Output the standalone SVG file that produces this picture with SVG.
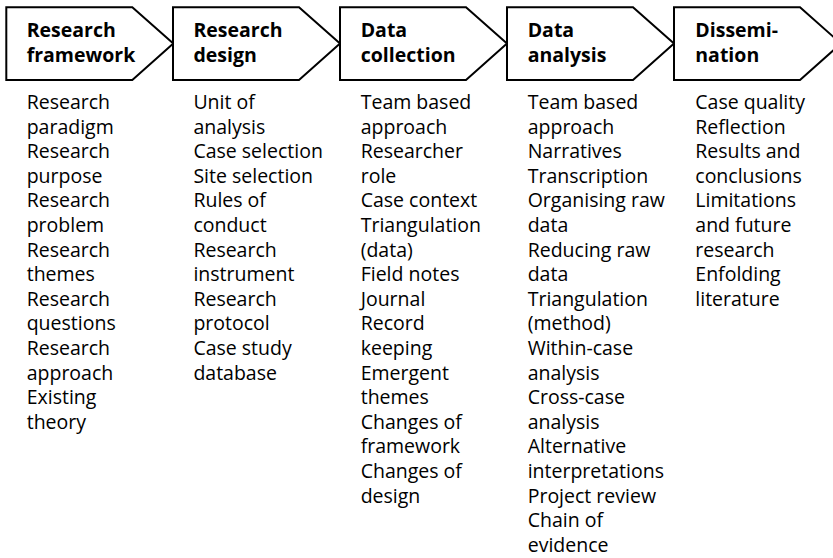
<svg xmlns="http://www.w3.org/2000/svg" width="833" height="558" viewBox="0 0 833 558">
<defs>
<style>
.chev{fill:#fff;stroke:#000;stroke-width:2;stroke-linejoin:miter}
.hd{font-family:"Open Sans","Noto Sans","Liberation Sans",sans-serif;font-weight:bold;font-size:19.5px;fill:#000}
.bd{font-family:"Open Sans","Noto Sans","Liberation Sans",sans-serif;font-size:19.5px;fill:#000}
</style>
<path id="chevShape" d="M0,0 H126 L167,36.3 L126,72.6 H0 Z"/>
</defs>
<rect width="833" height="558" fill="#fff"/>
<g id="node-framework">
<use href="#chevShape" x="6.3" y="7.3" class="chev"/>
<text class="hd" x="26.7" y="36.7">Research<tspan x="26.7" y="62">framework</tspan></text>
<text class="bd" x="26.7" y="109">Research<tspan x="26.7" dy="24.6">paradigm</tspan><tspan x="26.7" dy="24.6">Research</tspan><tspan x="26.7" dy="24.6">purpose</tspan><tspan x="26.7" dy="24.6">Research</tspan><tspan x="26.7" dy="24.6">problem</tspan><tspan x="26.7" dy="24.6">Research</tspan><tspan x="26.7" dy="24.6">themes</tspan><tspan x="26.7" dy="24.6">Research</tspan><tspan x="26.7" dy="24.6">questions</tspan><tspan x="26.7" dy="24.6">Research</tspan><tspan x="26.7" dy="24.6">approach</tspan><tspan x="26.7" dy="24.6">Existing</tspan><tspan x="26.7" dy="24.6">theory</tspan></text>
</g>
<g id="node-design">
<use href="#chevShape" x="173" y="7.3" class="chev"/>
<text class="hd" x="193.4" y="36.7">Research<tspan x="193.4" y="62">design</tspan></text>
<text class="bd" x="193.4" y="109">Unit of<tspan x="193.4" dy="24.6">analysis</tspan><tspan x="193.4" dy="24.6">Case selection</tspan><tspan x="193.4" dy="24.6">Site selection</tspan><tspan x="193.4" dy="24.6">Rules of</tspan><tspan x="193.4" dy="24.6">conduct</tspan><tspan x="193.4" dy="24.6">Research</tspan><tspan x="193.4" dy="24.6">instrument</tspan><tspan x="193.4" dy="24.6">Research</tspan><tspan x="193.4" dy="24.6">protocol</tspan><tspan x="193.4" dy="24.6">Case study</tspan><tspan x="193.4" dy="24.6">database</tspan></text>
</g>
<g id="node-collection">
<use href="#chevShape" x="340" y="7.3" class="chev"/>
<text class="hd" x="360.7" y="36.7">Data<tspan x="360.7" y="62">collection</tspan></text>
<text class="bd" x="360.7" y="109">Team based<tspan x="360.7" dy="24.6">approach</tspan><tspan x="360.7" dy="24.6">Researcher</tspan><tspan x="360.7" dy="24.6">role</tspan><tspan x="360.7" dy="24.6">Case context</tspan><tspan x="360.7" dy="24.6">Triangulation</tspan><tspan x="360.7" dy="24.6">(data)</tspan><tspan x="360.7" dy="24.6">Field notes</tspan><tspan x="360.7" dy="24.6">Journal</tspan><tspan x="360.7" dy="24.6">Record</tspan><tspan x="360.7" dy="24.6">keeping</tspan><tspan x="360.7" dy="24.6">Emergent</tspan><tspan x="360.7" dy="24.6">themes</tspan><tspan x="360.7" dy="24.6">Changes of</tspan><tspan x="360.7" dy="24.6">framework</tspan><tspan x="360.7" dy="24.6">Changes of</tspan><tspan x="360.7" dy="24.6">design</tspan></text>
</g>
<g id="node-analysis">
<use href="#chevShape" x="507" y="7.3" class="chev"/>
<text class="hd" x="527.7" y="36.7">Data<tspan x="527.7" y="62">analysis</tspan></text>
<text class="bd" x="527.7" y="109">Team based<tspan x="527.7" dy="24.6">approach</tspan><tspan x="527.7" dy="24.6">Narratives</tspan><tspan x="527.7" dy="24.6">Transcription</tspan><tspan x="527.7" dy="24.6">Organising raw</tspan><tspan x="527.7" dy="24.6">data</tspan><tspan x="527.7" dy="24.6">Reducing raw</tspan><tspan x="527.7" dy="24.6">data</tspan><tspan x="527.7" dy="24.6">Triangulation</tspan><tspan x="527.7" dy="24.6">(method)</tspan><tspan x="527.7" dy="24.6">Within-case</tspan><tspan x="527.7" dy="24.6">analysis</tspan><tspan x="527.7" dy="24.6">Cross-case</tspan><tspan x="527.7" dy="24.6">analysis</tspan><tspan x="527.7" dy="24.6">Alternative</tspan><tspan x="527.7" dy="24.6">interpretations</tspan><tspan x="527.7" dy="24.6">Project review</tspan><tspan x="527.7" dy="24.6">Chain of</tspan><tspan x="527.7" dy="24.6">evidence</tspan></text>
</g>
<g id="node-dissemination">
<use href="#chevShape" x="674" y="7.3" class="chev"/>
<text class="hd" x="695.3" y="36.7">Dissemi-<tspan x="695.3" y="62">nation</tspan></text>
<text class="bd" x="695.3" y="109">Case quality<tspan x="695.3" dy="24.6">Reflection</tspan><tspan x="695.3" dy="24.6">Results and</tspan><tspan x="695.3" dy="24.6">conclusions</tspan><tspan x="695.3" dy="24.6">Limitations</tspan><tspan x="695.3" dy="24.6">and future</tspan><tspan x="695.3" dy="24.6">research</tspan><tspan x="695.3" dy="24.6">Enfolding</tspan><tspan x="695.3" dy="24.6">literature</tspan></text>
</g>
<g id="connectors"></g>
</svg>
